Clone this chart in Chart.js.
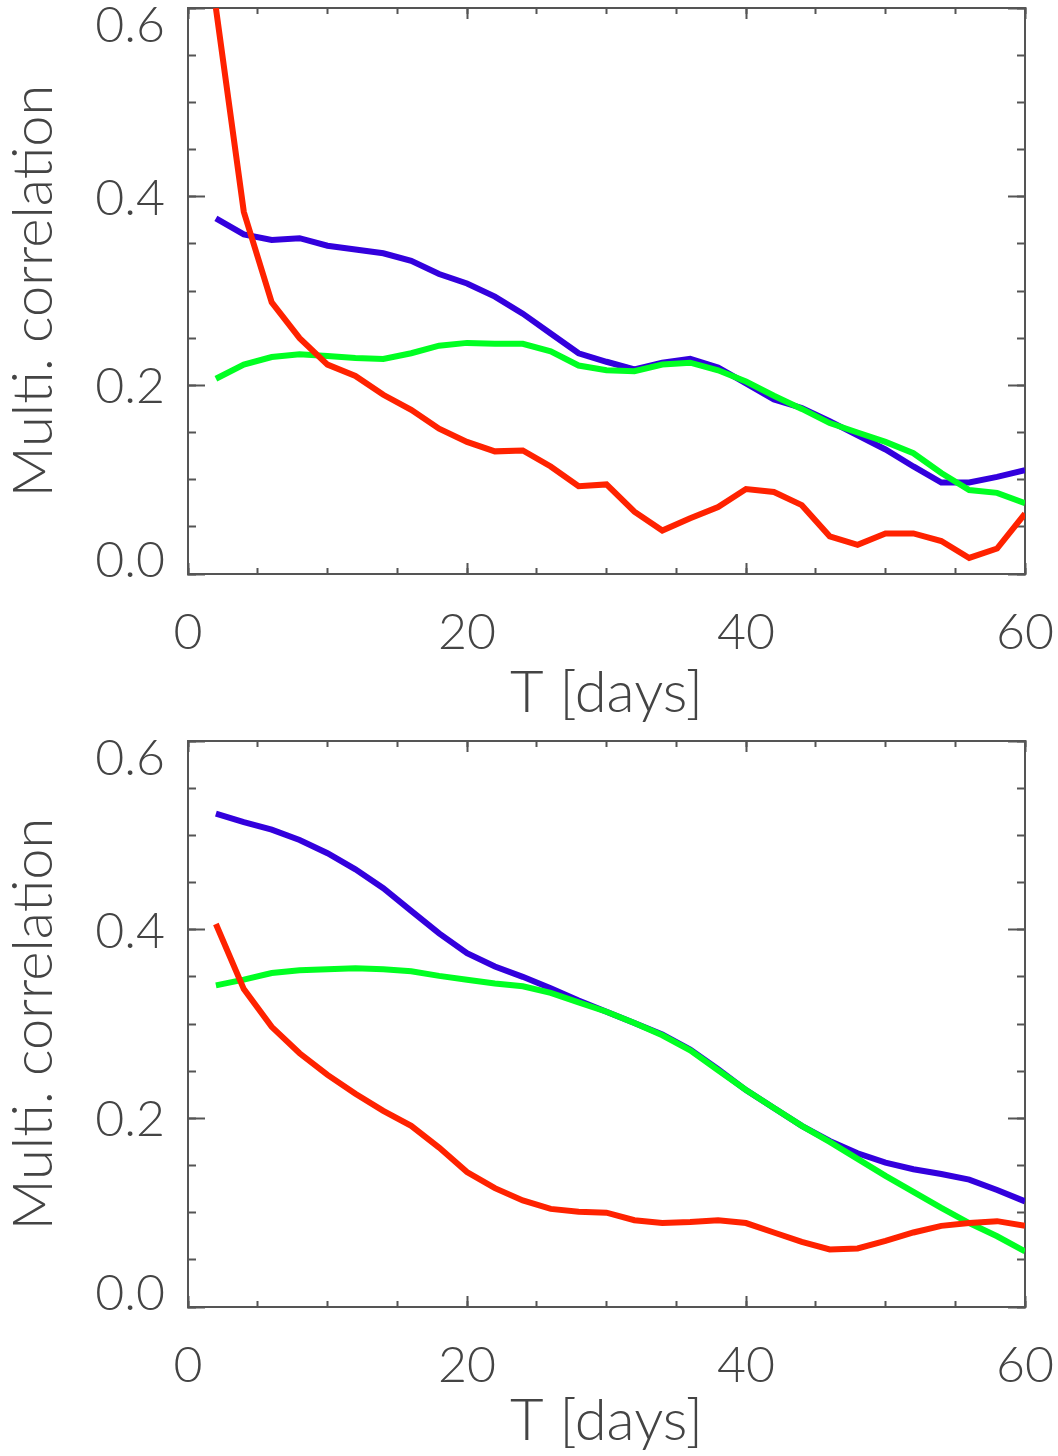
<!DOCTYPE html>
<html>
<head>
<meta charset="utf-8">
<title>Multi. correlation vs T</title>
<script src="https://cdn.jsdelivr.net/npm/chart.js@4.4.1/dist/chart.umd.min.js"></script>
<style>
    body { margin: 0; background: #fff; }
    .panel { position: absolute; left: 0; width: 1058px; height: 728px; }
</style>
</head>
<body>
<div class="panel" style="top: 0;"><canvas id="topChartCanvas" width="1058" height="728"></canvas></div>
<div class="panel" style="top: 728px;"><canvas id="bottomChartCanvas" width="1058" height="728"></canvas></div>
<script>
// Window length T in days (same for both panels)
const days = [2, 4, 6, 8, 10, 12, 14, 16, 18, 20, 22, 24, 26, 28, 30,
              32, 34, 36, 38, 40, 42, 44, 46, 48, 50, 52, 54, 56, 58, 60];

// Major tick values / labels
const xTicks = [0, 20, 40, 60];
const yTicks = [0.0, 0.2, 0.4, 0.6];

// Top panel
const topBlue = [0.377, 0.360, 0.354, 0.356, 0.348, 0.344, 0.340, 0.332, 0.318, 0.308,
                 0.294, 0.276, 0.255, 0.234, 0.225, 0.217, 0.224, 0.228, 0.219, 0.202,
                 0.185, 0.176, 0.162, 0.147, 0.132, 0.114, 0.097, 0.097, 0.103, 0.110];
const topGreen = [0.207, 0.222, 0.230, 0.233, 0.231, 0.229, 0.228, 0.234, 0.242, 0.245,
                  0.244, 0.244, 0.236, 0.221, 0.216, 0.215, 0.222, 0.224, 0.216, 0.204,
                  0.189, 0.175, 0.160, 0.150, 0.140, 0.128, 0.107, 0.089, 0.086, 0.075];
const topRed = [0.600, 0.384, 0.288, 0.250, 0.222, 0.210, 0.190, 0.174, 0.154, 0.140,
                0.130, 0.131, 0.114, 0.093, 0.095, 0.066, 0.046, 0.059, 0.071, 0.090,
                0.087, 0.073, 0.040, 0.031, 0.043, 0.043, 0.035, 0.017, 0.027, 0.064];

// Bottom panel
const bottomBlue = [0.523, 0.514, 0.506, 0.495, 0.481, 0.464, 0.444, 0.420, 0.396, 0.375,
                    0.361, 0.350, 0.338, 0.325, 0.313, 0.301, 0.289, 0.273, 0.252, 0.230,
                    0.211, 0.192, 0.176, 0.163, 0.153, 0.146, 0.141, 0.135, 0.124, 0.112];
const bottomGreen = [0.341, 0.347, 0.354, 0.357, 0.358, 0.359, 0.358, 0.356, 0.351, 0.347,
                     0.343, 0.340, 0.333, 0.323, 0.313, 0.301, 0.288, 0.272, 0.251, 0.230,
                     0.211, 0.192, 0.175, 0.157, 0.139, 0.122, 0.105, 0.089, 0.075, 0.059];
const bottomRed = [0.406, 0.337, 0.297, 0.269, 0.246, 0.226, 0.208, 0.192, 0.169, 0.143,
                   0.126, 0.113, 0.104, 0.101, 0.100, 0.092, 0.089, 0.090, 0.092, 0.089,
                   0.079, 0.069, 0.061, 0.062, 0.070, 0.079, 0.086, 0.089, 0.091, 0.086];

const frameColor = '#555';
const textColor = '#444';
const textFamily = 'Lato, "DejaVu Sans", sans-serif';

// force an axis box to a fixed size so the plot frame lands where we want it
function fixedSize(px) {
    return function (scale) {
        if (scale.isHorizontal()) {
            scale.height = px;
        } else {
            scale.width = px;
        }
        scale.paddingLeft = 0;
        scale.paddingRight = 0;
        scale.paddingTop = 0;
        scale.paddingBottom = 0;
    };
}

// inward pointing tick marks, no grid lines
function tickGrid(len) {
    return { drawOnChartArea: false, drawTicks: true, tickLength: -len, tickWidth: 2, tickColor: frameColor };
}

function majorTicks(values) {
    return function (scale) {
        scale.ticks = values.map(v => ({ value: v }));
    };
}

function makeScales(xBoxHeight) {
    return {
        x: {
            type: 'linear', position: 'bottom', min: 0, max: 60, weight: 1,
            grid: tickGrid(11),
            border: { display: true, color: frameColor, width: 2 },
            afterBuildTicks: majorTicks(xTicks),
            ticks: { padding: 40, color: textColor, maxRotation: 0, autoSkip: false,
                     font: { family: textFamily, size: 50, weight: 300 } },
            title: { display: true, text: 'T [days]', color: textColor,
                     font: { family: textFamily, size: 58, weight: 300 },
                     padding: { top: 0, bottom: 0 } },
            afterFit: fixedSize(xBoxHeight)
        },
        xMinor: {
            type: 'linear', position: 'bottom', min: 0, max: 60, weight: 0,
            grid: tickGrid(6), border: { display: false },
            ticks: { display: false, stepSize: 5 },
            afterFit: fixedSize(0)
        },
        xTop: {
            type: 'linear', position: 'top', min: 0, max: 60, weight: 1,
            grid: tickGrid(11),
            border: { display: true, color: frameColor, width: 2 },
            afterBuildTicks: majorTicks(xTicks),
            ticks: { display: false },
            afterFit: fixedSize(0)
        },
        xTopMinor: {
            type: 'linear', position: 'top', min: 0, max: 60, weight: 0,
            grid: tickGrid(6), border: { display: false },
            ticks: { display: false, stepSize: 5 },
            afterFit: fixedSize(0)
        },
        y: {
            type: 'linear', position: 'left', min: 0, max: 0.6, weight: 1,
            grid: tickGrid(17),
            border: { display: true, color: frameColor, width: 2 },
            afterBuildTicks: majorTicks(yTicks),
            ticks: {
                padding: 40, labelOffset: 2, color: textColor, autoSkip: false,
                font: { family: textFamily, size: 50, weight: 300, lineHeight: 0.62 },
                // end labels sit inside the frame, like IDL does: push them in half a line
                callback: function (value) {
                    const label = value.toFixed(1);
                    if (value > 0.59) return ['', label];
                    if (value < 0.01) return [label, ''];
                    return label;
                }
            },
            title: { display: true, text: 'Multi. correlation', color: textColor,
                     font: { family: textFamily, size: 56, weight: 300 },
                     padding: { top: 0, bottom: 0 } },
            afterFit: fixedSize(188)
        },
        yMinor: {
            type: 'linear', position: 'left', min: 0, max: 0.6, weight: 0,
            grid: tickGrid(8), border: { display: false },
            ticks: { display: false, stepSize: 0.05 },
            afterFit: fixedSize(0)
        },
        yRight: {
            type: 'linear', position: 'right', min: 0, max: 0.6, weight: 1,
            grid: tickGrid(17),
            border: { display: true, color: frameColor, width: 2 },
            afterBuildTicks: majorTicks(yTicks),
            ticks: { display: false },
            afterFit: fixedSize(0)
        },
        yRightMinor: {
            type: 'linear', position: 'right', min: 0, max: 0.6, weight: 0,
            grid: tickGrid(8), border: { display: false },
            ticks: { display: false, stepSize: 0.05 },
            afterFit: fixedSize(0)
        }
    };
}

function series(values, color) {
    return {
        data: values.map((v, i) => ({ x: days[i], y: v })),
        borderColor: color,
        borderWidth: 6,
        pointRadius: 0,
        fill: false,
        tension: 0,
        xAxisID: 'x',
        yAxisID: 'y'
    };
}

// plotTop / plotBottom: frame position inside the 728px tall canvas
function makeConfig(blue, green, red, plotTop, plotBottom) {
    return {
        type: 'line',
        data: {
            // first dataset is drawn last, so red ends up on top
            datasets: [
                series(red, '#ff2200'),
                series(green, '#00ff22'),
                series(blue, '#3300dd')
            ]
        },
        options: {
            responsive: false,
            animation: false,
            devicePixelRatio: 1,
            layout: { padding: { left: 0, right: 33, top: plotTop, bottom: 0 } },
            plugins: { legend: { display: false }, tooltip: { enabled: false } },
            scales: makeScales(728 - plotBottom)
        }
    };
}

const topChart = new Chart(document.getElementById('topChartCanvas').getContext('2d'),
    makeConfig(topBlue, topGreen, topRed, 8, 574));
const bottomChart = new Chart(document.getElementById('bottomChartCanvas').getContext('2d'),
    makeConfig(bottomBlue, bottomGreen, bottomRed, 13, 579));
</script>
</body>
</html>
